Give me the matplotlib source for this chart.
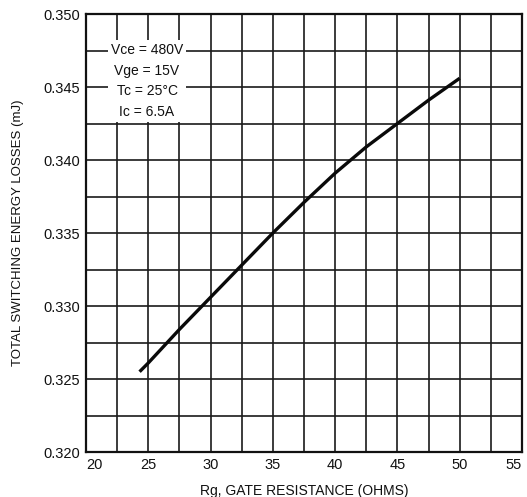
import numpy as np
import matplotlib.pyplot as plt
from matplotlib.ticker import MultipleLocator

plt.rcParams['font.family'] = ['Liberation Sans', 'DejaVu Sans']

# gate resistance (ohms) vs total switching energy (mJ)
rg = [24.3, 25.0, 27.5, 30.0, 32.5, 35.0, 37.5, 40.0, 42.5, 45.0, 47.5, 50.0]
e_total = [0.3255, 0.3261, 0.3284, 0.3306, 0.3328, 0.3350,
           0.3371, 0.3391, 0.3409, 0.3425, 0.3441, 0.3456]

x_ticks = [20, 25, 30, 35, 40, 45, 50, 55]
y_ticks = [0.320, 0.325, 0.330, 0.335, 0.340, 0.345, 0.350]
conditions = ["Vce = 480V", "Vge = 15V", "Tc = 25\u00b0C", "Ic = 6.5A"]

fig = plt.figure(figsize=(5.27, 4.97), dpi=100)
ax = fig.add_axes([0.1632, 0.0905, 0.8273, 0.8813])

ax.set_xlim(20, 55)
ax.set_ylim(0.320, 0.350)
ax.set_xticks(x_ticks)
ax.set_yticks(y_ticks)
ax.set_yticklabels(["%.3f" % v for v in y_ticks])
ax.xaxis.set_minor_locator(MultipleLocator(2.5))
ax.yaxis.set_minor_locator(MultipleLocator(0.0025))

ax.grid(which='both', color='#1a1a1a', linewidth=1.2)
ax.set_axisbelow(True)
ax.tick_params(which='both', length=0, pad=4, labelsize=10.5, colors='#111111')
for s in ax.spines.values():
    s.set_linewidth(1.6)
    s.set_color('#111111')
# last x label sits against the figure edge
ax.get_xticklabels()[-1].set_horizontalalignment('right')
ax.get_xticklabels()[0].set_horizontalalignment('left')

ax.plot(rg, e_total, color='#0a0a0a', linewidth=2.4, solid_capstyle='butt')

ax.text(24.9, 0.3454, "\n".join(conditions), ha='center', va='center',
        fontsize=10, linespacing=1.6, color='#111111',
        bbox=dict(facecolor='white', edgecolor='none', pad=2))

ax.set_xlabel("Rg, GATE RESISTANCE (OHMS)", fontsize=10, labelpad=9, color='#111111')
ax.set_ylabel("TOTAL SWITCHING ENERGY LOSSES (mJ)", fontsize=9.5, labelpad=14, color='#111111')

fig.savefig("out.png", dpi=100)
